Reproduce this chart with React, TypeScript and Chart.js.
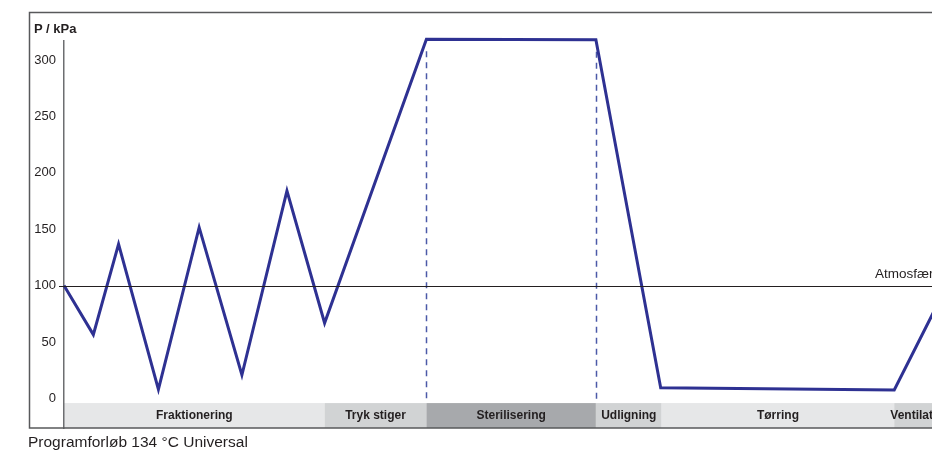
import React, { useEffect, useRef } from "react";
import { Chart, registerables } from "chart.js";

Chart.register(...registerables);

// time (arbitrary units) and chamber pressure (kPa)
const timePoints = [0, 2.93, 5.45, 9.43, 13.5, 17.77, 22.27, 26.03, 36.2, 53.13, 59.6, 82.93, 88.2];
const pressureKPa = [100, 56.5, 136.8, 7.9, 151.5, 20.7, 184, 66.8, 318.4, 318, 9.4, 7.4, 100];

const phaseLabels = ["Fraktionering", "Tryk stiger", "Sterilisering", "Udligning", "Tørring", "Ventilation"];
const phaseStarts = [0, 26.03, 36.2, 53.13, 59.7, 82.93];
const phaseEnds = [26.03, 36.2, 53.13, 59.7, 82.93, 88.2];
const phaseShades = ["#e6e7e8", "#d1d3d4", "#a7a9ac", "#d1d3d4", "#e6e7e8", "#d1d3d4"];

const yTicks = [0, 50, 100, 150, 200, 250, 300];
const atmosphericKPa = 100;
const atmosphericLabel = "Atmosfæretryk";
const atmosphericLabelAt = 81;
const sterilBounds = [36.2, 53.13];
const sterilPressure = [318.4, 318];

const axisTitle = "P / kPa";
const caption = "Programforløb 134 °C Universal";

const FONT = '"Liberation Sans", Arial, Helvetica, sans-serif';
const BAND_TOP = -4.2;

const decorPlugin = {
  id: "decor",
  beforeDraw(chart: any) {
    const { ctx, chartArea, scales } = chart;
    const xs = scales.x;
    const ys = scales.y;
    ctx.save();
    const yTop = ys.getPixelForValue(BAND_TOP);
    const yBot = chartArea.bottom;
    phaseLabels.forEach((label, i) => {
      const x1 = xs.getPixelForValue(phaseStarts[i]);
      const x2 = xs.getPixelForValue(phaseEnds[i]);
      ctx.fillStyle = phaseShades[i];
      ctx.fillRect(x1, yTop, x2 - x1, yBot - yTop);
    });
    ctx.fillStyle = "#231f20";
    ctx.font = `bold 12px ${FONT}`;
    ctx.textAlign = "center";
    ctx.textBaseline = "middle";
    phaseLabels.forEach((label, i) => {
      const x1 = xs.getPixelForValue(phaseStarts[i]);
      const x2 = xs.getPixelForValue(phaseEnds[i]);
      ctx.fillText(label, (x1 + x2) / 2, (yTop + yBot) / 2 + 0.5);
    });
    ctx.restore();
  },
  beforeDatasetsDraw(chart: any) {
    const { ctx, chartArea, scales } = chart;
    const xs = scales.x;
    const ys = scales.y;
    ctx.save();
    // dashed phase boundaries
    ctx.strokeStyle = "#4b5aa8";
    ctx.lineWidth = 1.5;
    ctx.setLineDash([6, 5]);
    sterilBounds.forEach((t, i) => {
      const x = Math.round(xs.getPixelForValue(t)) + 0.5;
      ctx.beginPath();
      ctx.moveTo(x, ys.getPixelForValue(sterilPressure[i]) + 12);
      ctx.lineTo(x, ys.getPixelForValue(BAND_TOP));
      ctx.stroke();
    });
    ctx.setLineDash([]);
    // frame
    const fl = chartArea.left - 34.5;
    const ft = chartArea.top - 28.5;
    const fr = chartArea.right + 12;
    const fb = chartArea.bottom;
    ctx.strokeStyle = "#58595b";
    ctx.lineWidth = 1.5;
    ctx.beginPath();
    ctx.moveTo(fr, ft);
    ctx.lineTo(fl, ft);
    ctx.lineTo(fl, fb);
    ctx.lineTo(fr, fb);
    ctx.stroke();
    ctx.restore();
  },
  afterDatasetsDraw(chart: any) {
    const { ctx, chartArea, scales } = chart;
    const xs = scales.x;
    const ys = scales.y;
    ctx.save();
    const y = Math.round(ys.getPixelForValue(atmosphericKPa)) + 0.5;
    ctx.strokeStyle = "#231f20";
    ctx.lineWidth = 1.2;
    ctx.beginPath();
    ctx.moveTo(chartArea.left - 5, y);
    ctx.lineTo(chartArea.right + 12, y);
    ctx.stroke();
    ctx.fillStyle = "#231f20";
    ctx.font = `13.5px ${FONT}`;
    ctx.textAlign = "left";
    ctx.textBaseline = "alphabetic";
    ctx.fillText(atmosphericLabel, xs.getPixelForValue(atmosphericLabelAt), y - 8.5);
    ctx.restore();
  },
};

export default function App() {
  const canvasRef = useRef<HTMLCanvasElement | null>(null);

  useEffect(() => {
    if (!canvasRef.current) return;
    const chart = new Chart(canvasRef.current, {
      type: "line",
      data: {
        datasets: [
          {
            data: timePoints.map((t, i) => ({ x: t, y: pressureKPa[i] })),
            borderColor: "#2e3192",
            borderWidth: 3,
            pointRadius: 0,
            tension: 0,
            borderJoinStyle: "miter",
            clip: false as any,
          } as any,
        ],
      },
      options: {
        responsive: false,
        animation: false,
        events: [],
        layout: { padding: { left: 0, top: 41, right: 53, bottom: 23 } },
        plugins: { legend: { display: false }, tooltip: { enabled: false } },
        scales: {
          x: { type: "linear", min: 0, max: 88.2, display: false },
          y: {
            type: "linear",
            min: -26.3,
            max: 316.8,
            afterBuildTicks: (s: any) => {
              s.ticks = yTicks.map((v) => ({ value: v }));
            },
            afterFit: (s: any) => {
              s.width = 64;
            },
            grid: { display: false, drawTicks: false },
            border: { display: true, color: "#6d6e71", width: 1.5 },
            ticks: {
              padding: 8,
              color: "#231f20",
              font: { family: FONT, size: 13 },
            },
          },
        },
      },
      plugins: [decorPlugin],
    } as any);
    return () => chart.destroy();
  }, []);

  return (
    <div
      style={{
        position: "fixed",
        left: 0,
        top: 0,
        width: 932,
        height: 451,
        overflow: "hidden",
        background: "#ffffff",
      }}
    >
      <canvas
        ref={canvasRef}
        width={1000}
        height={451}
        style={{ position: "absolute", left: 0, top: 0, width: 1000, height: 451, display: "block" }}
      />
      <div
        style={{
          position: "absolute",
          left: 34,
          top: 21,
          font: `bold 13px/15px ${FONT}`,
          color: "#231f20",
          whiteSpace: "nowrap",
        }}
      >
        {axisTitle}
      </div>
      <div
        style={{
          position: "absolute",
          left: 28,
          top: 433,
          font: `15.5px/17px ${FONT}`,
          color: "#231f20",
          whiteSpace: "nowrap",
        }}
      >
        {caption}
      </div>
    </div>
  );
}
